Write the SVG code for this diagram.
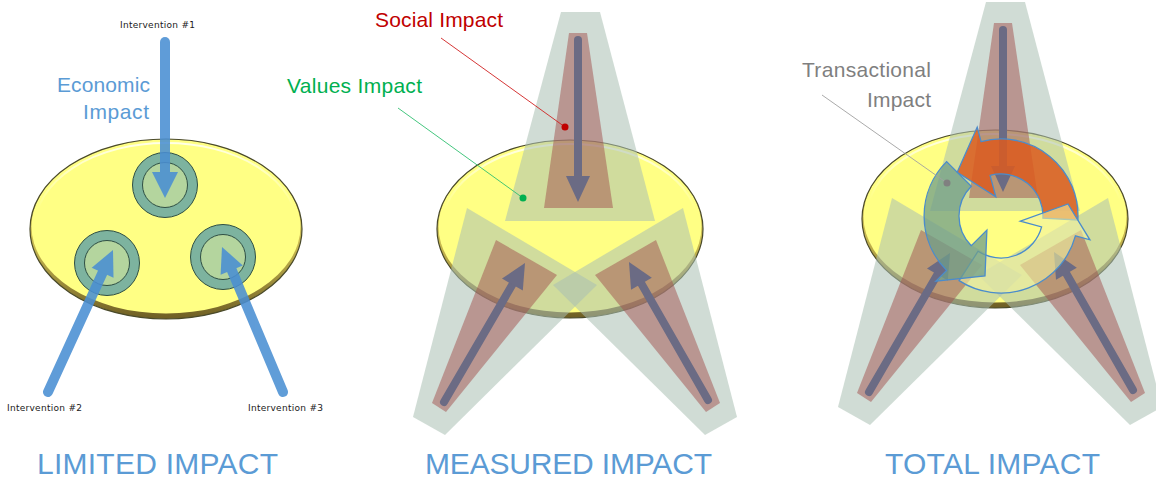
<svg xmlns="http://www.w3.org/2000/svg" width="1156" height="480" viewBox="0 0 1156 480">
<style>
.ttl{font-family:"Liberation Sans",Arial,sans-serif;font-size:30px;fill:#5b9bd5}
.lbl{font-family:"Liberation Sans",Arial,sans-serif;font-size:21px}
.int{font-family:"DejaVu Sans",Verdana,sans-serif;font-size:9px;fill:#1a1a1a}
.gray{fill:#a9c0b2;opacity:0.55}
.red{fill:#a2504d;opacity:0.5}
.dark{stroke:#6b6b84;stroke-width:8;stroke-linecap:round;fill:none}
.darkh{fill:#6b6b84}
.blue{stroke:#4a8fd3;stroke-width:10;stroke-linecap:round;fill:none}
.blueh{fill:#4a8fd3}
.ring{fill:#7db39f;stroke:#2f4f44;stroke-width:1}
.core{fill:#b4d59e;stroke:#2f4f44;stroke-width:1}
.cyc{stroke:#4a8ccc;stroke-width:1.3}
</style>
<defs>
<linearGradient id="rim" x1="0" y1="0" x2="0" y2="1">
<stop offset="0" stop-color="#d8d070"/>
<stop offset="0.6" stop-color="#c8b850"/>
<stop offset="1" stop-color="#6e5e24"/>
</linearGradient>
<linearGradient id="hl" x1="0" y1="0" x2="0" y2="1">
<stop offset="0" stop-color="#ffffff" stop-opacity="0.8"/>
<stop offset="0.4" stop-color="#ffffff" stop-opacity="0"/>
</linearGradient>
<g id="base">
<ellipse cx="570" cy="229" rx="133" ry="89" fill="url(#rim)"/>
<ellipse cx="570" cy="226.5" rx="131.5" ry="86" fill="#ffff84"/>
<ellipse cx="570" cy="227" rx="128" ry="83" fill="none" stroke="url(#hl)" stroke-width="2"/>
<ellipse cx="570" cy="229" rx="133" ry="89" fill="none" stroke="#4a4a2a" stroke-width="1.2"/>
</g>
<g id="model">
<use href="#base"/>
<polygon class="gray" points="561,12 600,12 655,221 505,221"/>
<polygon class="gray" points="467,208 597,285 445,435 413,417"/>
<polygon class="gray" points="683,208 553,285 705,435 737,417"/>
<polygon class="red" points="569,33 587,33 613,208 544,208"/>
<polygon class="red" points="496,240 557,275 446,412 432,403"/>
<polygon class="red" points="656,240 595,275 706,412 720,403"/>
<line class="dark" x1="578" y1="40" x2="578" y2="178"/>
<polygon class="darkh" points="566,176 590,176 578,202"/>
<line class="dark" x1="444" y1="402" x2="512.4" y2="284.6"/>
<polygon class="darkh" points="525,263 522.8,290.6 502,278.6"/>
<line class="dark" x1="708" y1="400" x2="641.4" y2="283.7"/>
<polygon class="darkh" points="629,262 651.8,277.7 631,289.7"/>
</g>
</defs>

<g id="limited">
<g id="ellipse-limited">
<ellipse cx="166" cy="229" rx="136" ry="90" fill="url(#rim)"/>
<ellipse cx="166" cy="226.5" rx="134.5" ry="87" fill="#ffff84"/>
<ellipse cx="166" cy="227" rx="131" ry="84" fill="none" stroke="url(#hl)" stroke-width="2"/>
<ellipse cx="166" cy="229" rx="136" ry="90" fill="none" stroke="#4a4a2a" stroke-width="1.2"/>
</g>
<g id="target-1"><circle class="ring" cx="165" cy="185" r="32.5"/><circle class="core" cx="165" cy="185" r="22.5"/></g>
<g id="target-2"><circle class="ring" cx="107" cy="263" r="32.5"/><circle class="core" cx="107" cy="263" r="22.5"/></g>
<g id="target-3"><circle class="ring" cx="223" cy="257" r="32.5"/><circle class="core" cx="223" cy="257" r="22.5"/></g>
</g>

<g id="connectors" opacity="0.88">
<line class="blue" x1="165" y1="42" x2="165" y2="174"/>
<polygon class="blueh" points="152,172 178,172 165,198"/>
<line class="blue" x1="48" y1="392" x2="102.6" y2="272.7"/>
<polygon class="blueh" points="113,250 113.5,277.7 91.7,267.7"/>
<line class="blue" x1="283" y1="392" x2="231.7" y2="270"/>
<polygon class="blueh" points="222,247 242.8,265.4 220.6,274.7"/>
</g>

<g id="measured">
<use href="#model"/>
</g>
<g id="callouts-measured">
<line x1="441" y1="38" x2="565" y2="127" stroke="#d02020" stroke-width="0.9"/><circle cx="565" cy="127" r="3.5" fill="#c00000"/>
<line x1="398" y1="108" x2="523" y2="198" stroke="#30c070" stroke-width="0.9"/><circle cx="523" cy="198" r="3.5" fill="#00b050"/>
</g>

<g id="total">
<use href="#model" transform="translate(425,-10)"/>
<g id="cycle">
<path class="cyc" fill="#dc5a1e" fill-opacity="0.85" d="M1077.9,220 A77,77 0 0 0 981.1,141.6 L977.2,127.1 L957.2,172.2 L995.8,196.7 L990.1,175.4 A42,42 0 0 1 1042.9,218.2 Z"/>
<path class="cyc" fill="#f2f2a0" fill-opacity="0.6" d="M959.1,280.6 A77,77 0 0 0 1075.4,235.9 L1089.9,239.8 L1068,204 L1020.3,221.2 L1041.6,226.9 A42,42 0 0 1 978.1,251.2 Z"/>
<path class="cyc" fill="#6f9e8a" fill-opacity="0.75" d="M946.6,161.6 A77,77 0 0 0 946.6,270.4 L935.9,281.1 L985,275.9 L986.9,230.1 L971.3,245.7 A42,42 0 0 1 971.3,186.3 Z"/>
</g>
<g id="callout-transactional"><line x1="822" y1="95" x2="947" y2="183" stroke="#a0a0a0" stroke-width="0.9"/><circle cx="947" cy="183" r="3.5" fill="#808080"/></g>
</g>

<g id="labels">
<text class="int" x="120" y="28" textLength="75">Intervention #1</text>
<text class="int" x="7" y="411" textLength="75">Intervention #2</text>
<text class="int" x="248" y="411" textLength="75">Intervention #3</text>
<text class="lbl" fill="#5b9bd5" x="57" y="92" textLength="93">Economic</text>
<text class="lbl" fill="#5b9bd5" x="83" y="119" textLength="66">Impact</text>
<text class="lbl" fill="#c00000" x="375" y="27" textLength="128">Social Impact</text>
<text class="lbl" fill="#00b050" x="287" y="93" textLength="135">Values Impact</text>
<text class="lbl" fill="#7f7f7f" x="802" y="77" textLength="129">Transactional</text>
<text class="lbl" fill="#7f7f7f" x="867" y="107" textLength="64">Impact</text>
<text class="ttl" x="37" y="474" textLength="241">LIMITED IMPACT</text>
<text class="ttl" x="425" y="474" textLength="287">MEASURED IMPACT</text>
<text class="ttl" x="885" y="474" textLength="215">TOTAL IMPACT</text>
</g>
</svg>
